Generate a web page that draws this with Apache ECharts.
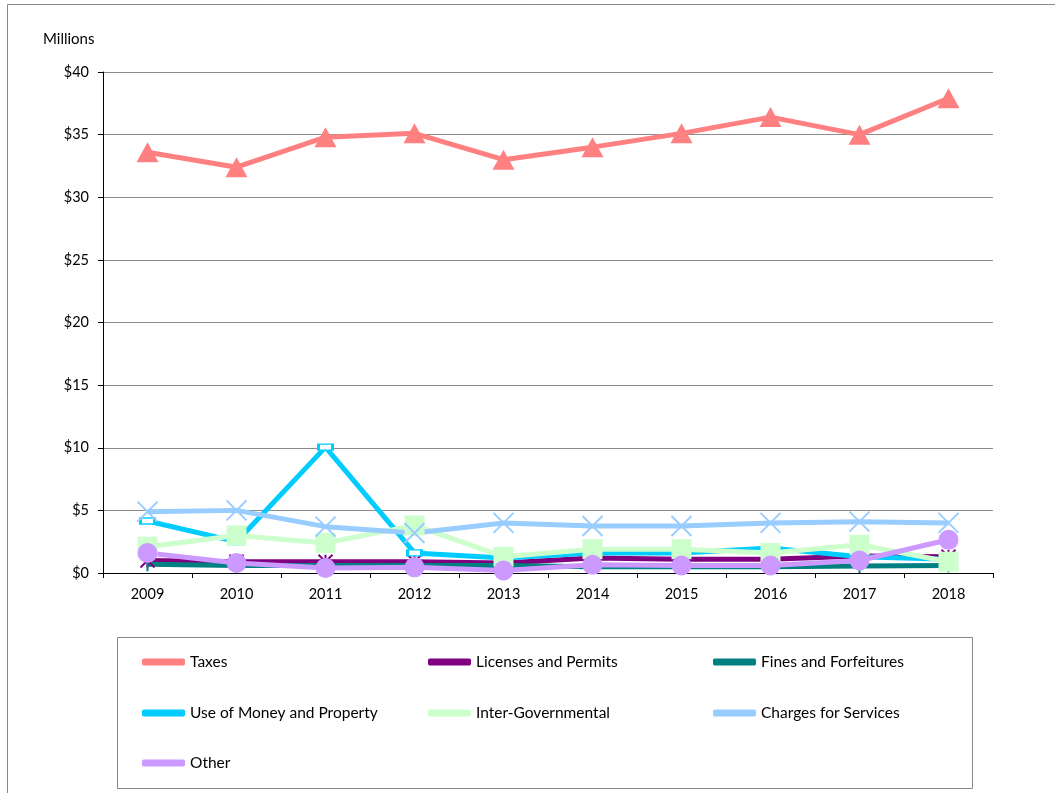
<!DOCTYPE html>
<html>
<head>
<meta charset="utf-8">
<script src="https://cdn.jsdelivr.net/npm/echarts@6/dist/echarts.min.js"></script>
<style>
html,body{margin:0;padding:0;background:#fff;}
#chart{width:1055px;height:793px;}
</style>
</head>
<body>
<div id="chart"></div>
<script>
const years = ['2009','2010','2011','2012','2013','2014','2015','2016','2017','2018'];
const taxes = [33.6, 32.4, 34.8, 35.1, 33.0, 34.0, 35.1, 36.4, 35.0, 37.9];
const licenses = [1.0, 0.9, 0.9, 0.9, 0.8, 1.2, 1.1, 1.1, 1.35, 1.3];
const fines = [0.7, 0.6, 0.6, 0.6, 0.6, 0.5, 0.5, 0.5, 0.55, 0.6];
const useOfMoney = [4.15, 2.5, 10.05, 1.6, 1.2, 1.6, 1.6, 2.0, 1.3, 1.1];
const interGov = [2.1, 3.0, 2.4, 3.8, 1.3, 1.9, 1.9, 1.6, 2.25, 0.9];
const charges = [4.9, 5.0, 3.7, 3.2, 4.0, 3.75, 3.75, 4.0, 4.1, 4.0];
const other = [1.6, 0.8, 0.4, 0.45, 0.2, 0.65, 0.6, 0.6, 1.0, 2.65];
const yTicks = [0, 5, 10, 15, 20, 25, 30, 35, 40];

const FONT = 'Lato, "Liberation Sans", sans-serif';
const chart = echarts.init(document.getElementById('chart'), null, {renderer: 'canvas'});

const starPath = 'path://M0,0L10,10M10,0L0,10M5,0L5,10';
const xPath = 'path://M0,0L10,10M10,0L0,10';

const seriesDefs = [
  {name: 'Taxes', data: taxes, color: '#FF8080', symbol: 'triangle', size: [22, 20]},
  {name: 'Licenses and Permits', data: licenses, color: '#800080', symbol: starPath, size: 14, stroke: true},
  {name: 'Fines and Forfeitures', data: fines, color: '#008080', symbol: 'rect', size: [2, 14]},
  {name: 'Use of Money and Property', data: useOfMoney, color: '#00CCFF', symbol: 'rect', size: [14, 6], hollow: true},
  {name: 'Inter-Governmental', data: interGov, color: '#CCFFCC', symbol: 'rect', size: 20},
  {name: 'Charges for Services', data: charges, color: '#99CCFF', symbol: xPath, size: 20, stroke: true},
  {name: 'Other', data: other, color: '#CC99FF', symbol: 'circle', size: 20}
];

const series = seriesDefs.map(d => {
  let itemStyle;
  if (d.stroke) itemStyle = {color: d.color, borderColor: d.color, borderWidth: 2};
  else if (d.hollow) itemStyle = {color: '#ffffff', borderColor: d.color, borderWidth: 2};
  else itemStyle = {color: d.color};
  return {
    name: d.name,
    type: 'line',
    data: d.data,
    symbol: d.symbol,
    symbolSize: d.size,
    showAllSymbol: true,
    lineStyle: {color: d.color, width: 5},
    itemStyle: itemStyle,
    emphasis: {disabled: true},
    animation: false,
    z: 2
  };
});

const legendPos = [
  [142, 662], [428, 662], [713, 662],
  [142, 713], [428, 713], [713, 713],
  [142, 763]
];
const legends = seriesDefs.map((d, i) => ({
  data: [{name: d.name, icon: 'roundRect', itemStyle: {color: d.color, borderWidth: 0}}],
  left: legendPos[i][0],
  top: legendPos[i][1] - 9,
  padding: 0,
  itemWidth: 43,
  itemHeight: 7,
  itemGap: 5,
  selectedMode: false,
  textStyle: {fontFamily: FONT, fontSize: 15.5, color: '#000', lineHeight: 18}
}));

chart.setOption({
  backgroundColor: '#fff',
  animation: false,
  grid: {left: 103, right: 62, top: 72, bottom: 220, containLabel: false},
  xAxis: {
    type: 'category',
    data: years,
    boundaryGap: true,
    axisLine: {lineStyle: {color: '#000', width: 1}},
    axisTick: {show: true, length: 5, lineStyle: {color: '#000'}},
    axisLabel: {fontFamily: FONT, fontSize: 14.5, color: '#000', margin: 14},
    splitLine: {show: false}
  },
  yAxis: {
    type: 'value',
    min: yTicks[0],
    max: yTicks[yTicks.length - 1],
    interval: 5,
    axisLine: {show: true, lineStyle: {color: '#000', width: 1}},
    axisTick: {show: true, length: 5, lineStyle: {color: '#000'}},
    axisLabel: {fontFamily: FONT, fontSize: 14.5, color: '#000', margin: 14, formatter: v => '$' + v},
    splitLine: {show: true, lineStyle: {color: '#8c8c8c', width: 1}}
  },
  legend: legends,
  graphic: [
    {type: 'rect', shape: {x: 7.5, y: 4.5, width: 1100, height: 900}, style: {fill: 'none', stroke: '#888', lineWidth: 1}, silent: true, z: -1},
    {type: 'rect', shape: {x: 117.5, y: 637.5, width: 855, height: 151}, style: {fill: 'none', stroke: '#888', lineWidth: 1}, silent: true, z: -1},
    {type: 'text', left: 43, top: 32, style: {text: 'Millions', fontFamily: FONT, fontSize: 15, fill: '#000'}}
  ],
  series: series
});
</script>
</body>
</html>
